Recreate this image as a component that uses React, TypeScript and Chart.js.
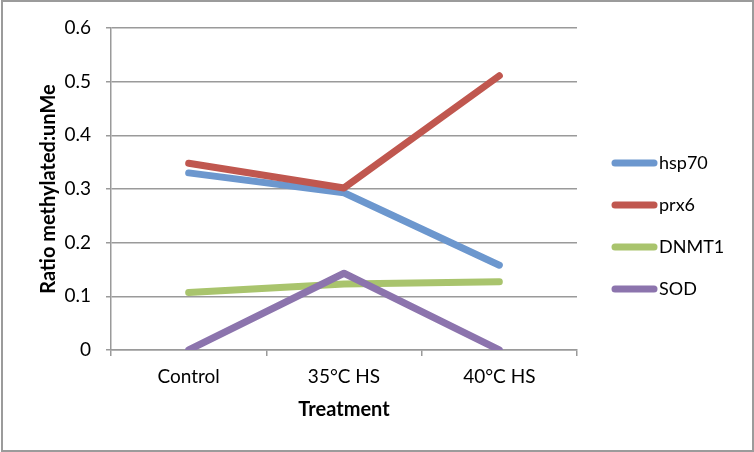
import React, { useEffect, useRef } from 'react';
import { Chart, registerables } from 'chart.js';

Chart.register(...registerables);

const categories = ['Control', '35°C HS', '40°C HS'];
const hsp70 = [0.33, 0.293, 0.158];
const prx6 = [0.348, 0.302, 0.511];
const dnmt1 = [0.107, 0.123, 0.127];
const sod = [0, 0.143, 0];
const seriesNames = ['hsp70', 'prx6', 'DNMT1', 'SOD'];
const seriesColors = ['#6C97CE', '#C0574F', '#A9C46D', '#8C74AD'];
const yMin = 0;
const yMax = 0.6;
const yStep = 0.1;
const xTitle = 'Treatment';
const yTitle = 'Ratio methylated:unMe';

const FONT = 'Lato, "Liberation Sans", sans-serif';
const GRID = '#9a9a9a';

const framePlugin = {
  id: 'frame',
  beforeDraw(chart: any) {
    const { ctx, width, height } = chart;
    ctx.save();
    ctx.fillStyle = '#ffffff';
    ctx.fillRect(0, 0, width, height);
    ctx.restore();
  },
  afterDraw(chart: any) {
    const { ctx, width, height } = chart;
    ctx.save();
    ctx.strokeStyle = '#9b9b9b';
    ctx.lineWidth = 2;
    ctx.strokeRect(2, 1, width - 3, height - 2);
    ctx.restore();
  },
};

const legendPlugin = {
  id: 'sideLegend',
  afterDraw(chart: any) {
    const { ctx } = chart;
    ctx.save();
    chart.data.datasets.forEach((ds: any, i: number) => {
      const y = 163 + i * 42;
      ctx.strokeStyle = ds.borderColor;
      ctx.lineWidth = 7;
      ctx.lineCap = 'round';
      ctx.beginPath();
      ctx.moveTo(615, y);
      ctx.lineTo(654, y);
      ctx.stroke();
      ctx.fillStyle = '#000';
      ctx.font = '18px ' + FONT;
      ctx.textBaseline = 'middle';
      ctx.textAlign = 'left';
      ctx.fillText(ds.label, 659, y);
    });
    ctx.restore();
  },
};

export default function App() {
  const ref = useRef<HTMLCanvasElement | null>(null);

  useEffect(() => {
    if (!ref.current) return;
    const seriesValues = [hsp70, prx6, dnmt1, sod];
    const chart = new Chart(ref.current, {
      type: 'line',
      data: {
        labels: categories,
        datasets: seriesValues.map((vals, i) => ({
          label: seriesNames[i],
          data: vals,
          borderColor: seriesColors[i],
          backgroundColor: seriesColors[i],
          borderWidth: 7,
          borderCapStyle: 'round',
          borderJoinStyle: 'round',
          pointRadius: 0,
          pointHoverRadius: 0,
          tension: 0,
          fill: false,
          order: 4 - i,
        })),
      },
      options: {
        responsive: false,
        animation: false,
        layout: { padding: { top: 28, right: 177, bottom: 0, left: 0 } },
        plugins: {
          legend: { display: false },
          tooltip: { enabled: false },
        },
        scales: {
          x: {
            type: 'category',
            offset: true,
            grid: {
              offset: true,
              drawOnChartArea: false,
              drawTicks: true,
              tickLength: 6,
              color: GRID,
              lineWidth: 1.5,
            },
            border: { display: true, color: GRID, width: 1.5 },
            ticks: {
              color: '#000',
              padding: 9,
              font: { family: FONT, size: 19 },
              maxRotation: 0,
            },
            title: {
              display: true,
              text: xTitle,
              color: '#000',
              font: { family: FONT, size: 20, weight: 'bold' },
              padding: { top: 0, bottom: 30 },
            },
            afterFit(scale: any) {
              scale.height = 102;
            },
          },
          y: {
            min: yMin,
            max: yMax,
            grid: {
              color: GRID,
              lineWidth: 1.5,
              drawTicks: true,
              tickLength: 5,
            },
            border: { display: true, color: GRID, width: 1.5 },
            ticks: {
              stepSize: yStep,
              color: '#000',
              padding: 15,
              font: { family: FONT, size: 19 },
            },
            title: {
              display: true,
              text: yTitle,
              color: '#000',
              font: { family: FONT, size: 20, weight: 'bold' },
              padding: { top: 37, bottom: 0 },
            },
            afterFit(scale: any) {
              scale.width = 111;
            },
          },
        },
      },
      plugins: [framePlugin, legendPlugin],
    } as any);
    return () => chart.destroy();
  }, []);

  return (
    <div style={{ position: 'fixed', left: 0, top: 0, width: 754, height: 452 }}>
      <canvas ref={ref} width={754} height={452} style={{ display: 'block' }} />
    </div>
  );
}
